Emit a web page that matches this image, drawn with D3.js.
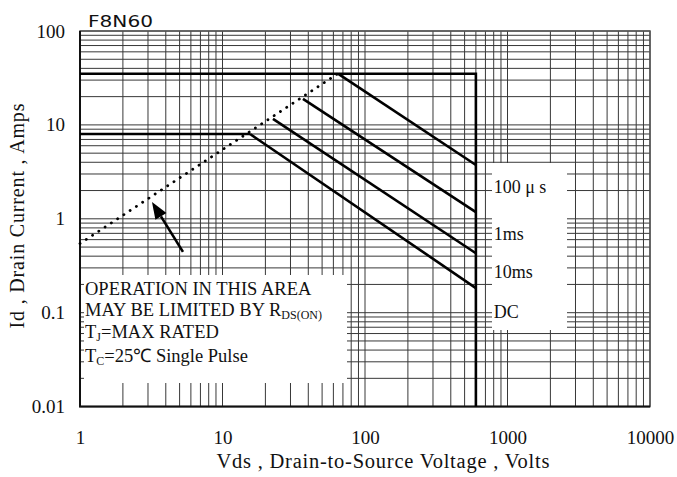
<!DOCTYPE html>
<html>
<head>
<meta charset="utf-8">
<script src="https://cdnjs.cloudflare.com/ajax/libs/d3/7.8.5/d3.min.js"></script>
<style>
  body { margin: 0; background: #fff; }
  text { font-family: "Liberation Serif", "Times New Roman", serif; fill: #111; }
</style>
</head>
<body>
<div id="my_dataviz"></div>
<script>
// tick labels
var xTicks = [1, 10, 100, 1000, 10000];
var yTicks = [0.01, 0.1, 1, 10, 100];

// pulsed current limit + Vdss limit
var limitV = [1, 600, 600];
var limitI = [35, 35, 0.01];
// continuous current limit
var flatV = [1, 15.6];
var flatI = [8, 8];
// Rds(on) limit, dotted
var rdsV = [1, 65];
var rdsI = [0.545, 35.4];
// pulse width lines
var pulseNames = ["100 μ s", "1ms", "10ms", "DC"];
var pulseStartV = [65, 36.7, 22.6, 15.6];
var pulseStartI = [35, 18.9, 11.6, 8];
var pulseEndV = [600, 600, 600, 600];
var pulseEndI = [3.74, 1.18, 0.43, 0.183];
var labelV = 800;
var labelI = [1.9, 0.6, 0.235, 0.088];
// arrow pointing at the Rds(on) line (tail, tip)
var arrowV = [5.28, 3.2];
var arrowI = [0.444, 1.51];

var notes = ["OPERATION IN THIS AREA", "MAY BE LIMITED BY R", "T", "T"];

// set the dimensions and margins of the graph
var margin = {top: 31, right: 27, bottom: 70.4, left: 80},
    width = 677 - margin.left - margin.right,
    height = 477 - margin.top - margin.bottom;

var root = d3.select("#my_dataviz")
  .append("svg")
    .attr("width", 677)
    .attr("height", 477);

var svg = root.append("g")
    .attr("transform", "translate(" + margin.left + "," + margin.top + ")");

var x = d3.scaleLog().domain([1, 10000]).range([0, width]);
var y = d3.scaleLog().domain([0.01, 100]).range([height, 0]);

// grid
svg.selectAll(".vgrid")
  .data(x.ticks())
  .enter().append("line")
    .attr("class", "vgrid")
    .attr("x1", function(d) { return x(d); })
    .attr("x2", function(d) { return x(d); })
    .attr("y1", 0)
    .attr("y2", height)
    .attr("stroke", "#383838")
    .attr("stroke-width", 1);

svg.selectAll(".hgrid")
  .data(y.ticks())
  .enter().append("line")
    .attr("class", "hgrid")
    .attr("x1", 0)
    .attr("x2", width)
    .attr("y1", function(d) { return y(d); })
    .attr("y2", function(d) { return y(d); })
    .attr("stroke", "#383838")
    .attr("stroke-width", 1);

// white boxes behind the notes
svg.append("rect")
  .attr("x", 4).attr("y", 244)
  .attr("width", 263).attr("height", 108)
  .attr("fill", "#fff");
svg.append("rect")
  .attr("x", 412).attr("y", 132)
  .attr("width", 75).attr("height", 167)
  .attr("fill", "#fff");

// frame
svg.append("rect")
  .attr("x", 0).attr("y", 0)
  .attr("width", width).attr("height", height)
  .attr("fill", "none")
  .attr("stroke", "#555")
  .attr("stroke-width", 1.5);
svg.append("path")
  .attr("d", "M0,0V" + height + "H" + width)
  .attr("fill", "none")
  .attr("stroke", "#111")
  .attr("stroke-width", 2);

// curves
var line = d3.line()
  .x(function(d) { return x(d[0]); })
  .y(function(d) { return y(d[1]); });

svg.append("path")
  .attr("d", line(d3.zip(limitV, limitI)))
  .attr("fill", "none")
  .attr("stroke", "#000")
  .attr("stroke-width", 2.6);

svg.append("path")
  .attr("d", line(d3.zip(flatV, flatI)))
  .attr("fill", "none")
  .attr("stroke", "#000")
  .attr("stroke-width", 2.6);

svg.append("path")
  .attr("d", line(d3.zip(rdsV, rdsI)))
  .attr("fill", "none")
  .attr("stroke", "#000")
  .attr("stroke-width", 2.8)
  .attr("stroke-linecap", "round")
  .attr("stroke-dasharray", "0.1 7.4");

svg.selectAll(".pulse")
  .data(pulseNames)
  .enter().append("path")
    .attr("class", "pulse")
    .attr("d", function(d, i) {
      return line([[pulseStartV[i], pulseStartI[i]], [pulseEndV[i], pulseEndI[i]]]);
    })
    .attr("fill", "none")
    .attr("stroke", "#000")
    .attr("stroke-width", 2.6);

// arrow: shaft + filled head built from the scaled tip and tail
var ax0 = x(arrowV[0]), ay0 = y(arrowI[0]),
    ax1 = x(arrowV[1]), ay1 = y(arrowI[1]);
var ang = Math.atan2(ay1 - ay0, ax1 - ax0),
    headLen = 17, headHalf = 6.5;
var bx = ax1 - headLen * Math.cos(ang), by = ay1 - headLen * Math.sin(ang);

svg.append("line")
  .attr("x1", ax0).attr("y1", ay0)
  .attr("x2", bx).attr("y2", by)
  .attr("stroke", "#000")
  .attr("stroke-width", 2.6);

svg.append("path")
  .attr("d", "M" + ax1 + "," + ay1 +
    "L" + (bx + headHalf * Math.sin(ang)) + "," + (by - headHalf * Math.cos(ang)) +
    "L" + (bx - headHalf * Math.sin(ang)) + "," + (by + headHalf * Math.cos(ang)) + "Z")
  .attr("fill", "#000");

// pulse labels
svg.selectAll(".plabel")
  .data(pulseNames)
  .enter().append("text")
    .attr("class", "plabel")
    .attr("x", x(labelV))
    .attr("y", function(d, i) { return y(labelI[i]); })
    .attr("font-size", 18)
    .text(function(d) { return d; });

// notes
var nt = svg.append("g").attr("font-size", 18.5);
nt.append("text").attr("x", 5).attr("y", 264).text(notes[0]);
var t2 = nt.append("text").attr("x", 5).attr("y", 284.7);
t2.append("tspan").text(notes[1]);
t2.append("tspan").attr("font-size", 12).attr("dy", 3).text("DS(ON)");
var t3 = nt.append("text").attr("x", 5).attr("y", 307.3);
t3.append("tspan").text(notes[2]);
t3.append("tspan").attr("font-size", 12).attr("dy", 3).text("J");
t3.append("tspan").attr("dy", -3).text("=MAX RATED");
var t4 = nt.append("text").attr("x", 5).attr("y", 330.7);
t4.append("tspan").text(notes[3]);
t4.append("tspan").attr("font-size", 12).attr("dy", 3).text("C");
t4.append("tspan").attr("dy", -3).text("=25℃  Single Pulse");

// axes
var xAxis = svg.append("g")
  .attr("transform", "translate(0," + height + ")")
  .call(d3.axisBottom(x).tickValues(xTicks).tickFormat(function(d) { return d; }).tickSize(0).tickPadding(24));
xAxis.select(".domain").remove();
xAxis.selectAll("text")
  .attr("font-size", 19)
  .style("font-family", "'Liberation Serif', serif")
  .attr("fill", "#111");

var yAxis = svg.append("g")
  .call(d3.axisLeft(y).tickValues(yTicks).tickFormat(function(d) { return d; }).tickSize(0).tickPadding(15));
yAxis.select(".domain").remove();
yAxis.selectAll("text")
  .attr("font-size", 19)
  .style("font-family", "'Liberation Serif', serif")
  .attr("fill", "#111");

// titles
root.append("text")
  .attr("x", 383)
  .attr("y", 468)
  .attr("text-anchor", "middle")
  .attr("font-size", 20.5)
  .attr("textLength", 333)
  .text("Vds , Drain-to-Source Voltage , Volts");

root.append("text")
  .attr("transform", "translate(24,216) rotate(-90)")
  .attr("text-anchor", "middle")
  .attr("font-size", 20)
  .attr("textLength", 225)
  .text("Id , Drain Current , Amps");

root.append("text")
  .attr("transform", "translate(88,27) scale(1.22,1)")
  .attr("font-size", 16.5)
  .style("font-family", "'DejaVu Sans', sans-serif")
  .attr("fill", "#444")
  .text("F8N60");
</script>
</body>
</html>
